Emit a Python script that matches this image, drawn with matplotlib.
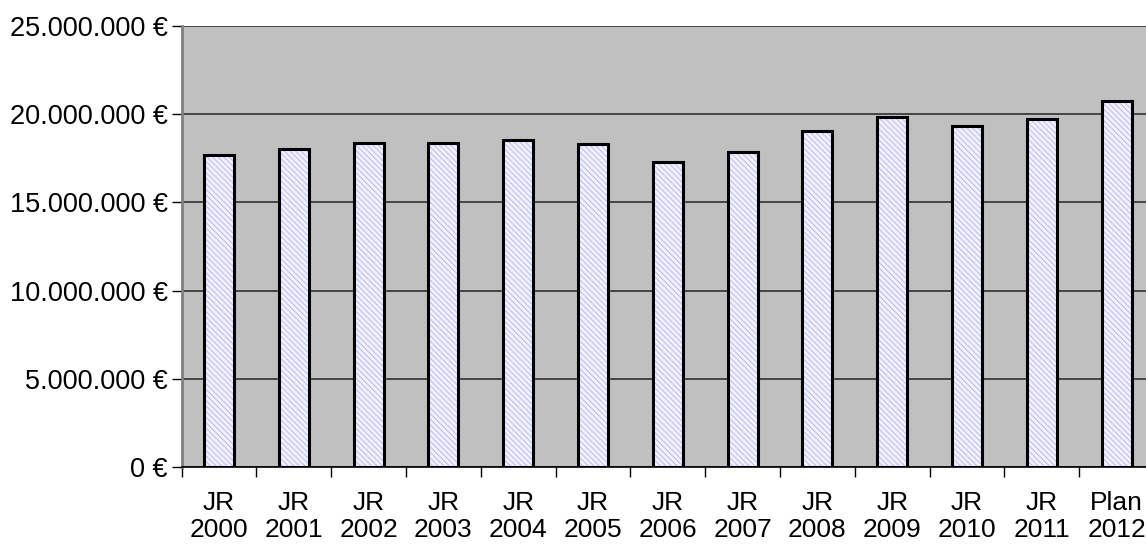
import matplotlib
matplotlib.use("Agg")
import matplotlib.pyplot as plt
import numpy as np
from matplotlib.ticker import FuncFormatter, FixedLocator

categories = ["JR\n2000", "JR\n2001", "JR\n2002", "JR\n2003", "JR\n2004", "JR\n2005",
              "JR\n2006", "JR\n2007", "JR\n2008", "JR\n2009", "JR\n2010", "JR\n2011", "Plan\n2012"]
values = [17710000, 18000000, 18350000, 18380000, 18560000, 18300000,
          17300000, 17870000, 19070000, 19830000, 19320000, 19730000, 20770000]
yticks = [0, 5000000, 10000000, 15000000, 20000000, 25000000]

plt.rcParams['font.family'] = ['Liberation Sans', 'DejaVu Sans']
plt.rcParams['hatch.linewidth'] = 0.6

fig = plt.figure(figsize=(11.46, 5.47), dpi=100)
ax = fig.add_axes([0.1585, 0.1463, 1.007 - 0.1585, 0.9525 - 0.1463])
ax.set_facecolor('#c0c0c0')

x = np.arange(len(categories))
# hatched fill
ax.bar(x, values, width=0.4, color='#f0f0ff', edgecolor='#b4b4f0', hatch='\\\\\\\\\\\\',
       linewidth=0, zorder=3)
# black outline
ax.bar(x, values, width=0.4, fill=False, edgecolor='black', linewidth=2.2, zorder=4)

ax.set_xlim(-0.5, len(categories) - 0.5)
ax.set_ylim(0, 25000000)
ax.set_yticks(yticks)

def fmt(v, pos):
    s = f"{int(v):,}".replace(",", ".")
    return f"{s} €"
ax.yaxis.set_major_formatter(FuncFormatter(fmt))
ax.grid(axis='y', color='#303030', linewidth=1.2, zorder=1)

ax.set_xticks(x)
ax.set_xticklabels(categories, fontsize=19, linespacing=1.2)
ax.xaxis.set_minor_locator(FixedLocator(np.arange(-0.5, len(categories), 1)))
ax.tick_params(axis='x', which='major', length=0, pad=17)
ax.tick_params(axis='x', which='minor', length=7, width=1, direction='out', color='black')
ax.tick_params(axis='y', which='major', length=7, width=1, direction='out', labelsize=19.5, pad=3)

for side in ['top', 'right']:
    ax.spines[side].set_visible(False)
ax.spines['left'].set_color('#808080')
ax.spines['left'].set_linewidth(2)
ax.spines['bottom'].set_color('black')
ax.spines['bottom'].set_linewidth(1.2)

fig.savefig("out.png", dpi=100)
